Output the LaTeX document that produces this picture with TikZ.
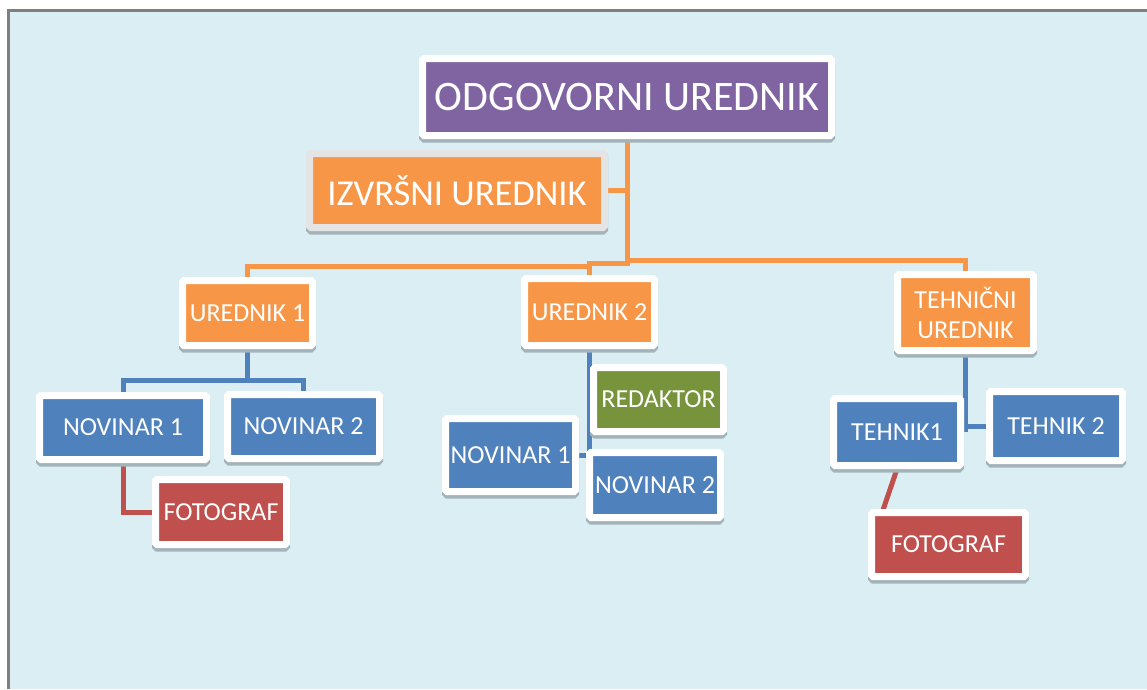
\documentclass[tikz,border=0pt]{standalone}
\usepackage{fontspec}
\setmainfont{Carlito}
\usetikzlibrary{shadows}

\definecolor{pagebg}{HTML}{DBEEF4}
\definecolor{framegray}{HTML}{7F7F7F}
\definecolor{cpurple}{HTML}{8064A2}
\definecolor{corange}{HTML}{F79646}
\definecolor{cblue}{HTML}{4F81BD}
\definecolor{cred}{HTML}{C0504D}
\definecolor{cgreen}{HTML}{77933C}
\definecolor{cshadow}{HTML}{A3B3BA}
\definecolor{cgrayframe}{HTML}{E4E4E4}

\newcommand\orgfs[1]{\fontsize{#1}{#1}\selectfont}

\pgfdeclarelayer{back}
\pgfdeclarelayer{wires}
\pgfsetlayers{back,wires,main}

\tikzset{
  orgbox/.style={draw=white, line width=7pt, rounded corners=1.5pt,
    inner sep=0pt, text=white, align=center, font=\orgfs{26},
    drop shadow={shadow xshift=0pt, shadow yshift=-3.5pt, opacity=1,
      fill=cshadow, draw=cshadow, line width=7pt}},
  oline/.style={draw=corange, line width=5pt},
  bline/.style={draw=cblue, line width=5pt},
  rline/.style={draw=cred, line width=5pt},
}

\begin{document}
\begin{tikzpicture}[x=1pt, y=-1pt]
\useasboundingbox (0,0) rectangle (1147,689);

% page and its frame
\begin{pgfonlayer}{back}
  \fill[white] (0,0) rectangle (1147,689);
  \fill[pagebg] (8,10) rectangle (1147,689);
  \draw[framegray, line width=2.5pt] (8.3,689) -- (8.3,10.3) -- (1147,10.3);
\end{pgfonlayer}

% top level
\node[orgbox, fill=cpurple, minimum width=409pt, minimum height=77pt,
      font=\orgfs{42}] (odg) at (627,97) {ODGOVORNI UREDNIK};
\node[orgbox, fill=corange, draw=cgrayframe, minimum width=295pt,
      minimum height=74pt, font=\orgfs{36.5}] (izv) at (457,190.5) {IZVRŠNI UREDNIK};

% editors
\node[orgbox, fill=corange, minimum width=130pt, minimum height=65pt] (u1) at (247.5,313) {UREDNIK 1};
\node[orgbox, fill=corange, minimum width=130pt, minimum height=67pt] (u2) at (589.5,312) {UREDNIK 2};
\node[orgbox, fill=corange, minimum width=136pt, minimum height=76pt,
      font=\fontsize{26}{30}\selectfont] (teh) at (965.5,312.5) {TEHNIČNI\\UREDNIK};

% first editor's team
\node[orgbox, fill=cblue, minimum width=167pt, minimum height=64pt] (n11) at (123,427.5) {NOVINAR 1};
\node[orgbox, fill=cblue, minimum width=152pt, minimum height=64pt] (n12) at (303.5,426.5) {NOVINAR 2};
\node[orgbox, fill=cred, minimum width=131pt, minimum height=65pt] (f1) at (221,512) {FOTOGRAF};

% second editor's team
\node[orgbox, fill=cgreen, minimum width=130pt, minimum height=64pt] (red) at (658.5,399.5) {REDAKTOR};
\node[orgbox, fill=cblue, minimum width=130pt, minimum height=73pt] (n21) at (510.5,455) {NOVINAR 1};
\node[orgbox, fill=cblue, minimum width=131pt, minimum height=65pt] (n22) at (655,485) {NOVINAR 2};

% technical team
\node[orgbox, fill=cblue, minimum width=127pt, minimum height=67pt] (t1) at (897,432) {TEHNIK1};
\node[orgbox, fill=cblue, minimum width=133pt, minimum height=69pt] (t2) at (1056,426) {TEHNIK 2};
\node[orgbox, fill=cred, minimum width=154pt, minimum height=64pt] (f2) at (948.5,544.5) {FOTOGRAF};

% connectors, kept under the boxes
\begin{pgfonlayer}{wires}
  \coordinate (b1) at (247.5,380);
  \coordinate (f2top) at (883,510);

  \draw[oline] (izv.east) -- (izv.east -| odg.south);
  \draw[oline] (odg.south) -- (odg.south |- 0,263) -| (u2.north);
  \draw[oline] (odg.south |- 0,260) -| (teh.north);
  \draw[oline] (u2.north |- 0,266) -| (u1.north);

  \draw[bline] (u1.south) -- (b1);
  \draw[bline] (n11.north) |- (b1) -| (n12.north);

  \draw[bline] (u2.south) -- (u2.south |- 0,457);
  \draw[bline] (n21.east) -- (n21.east -| u2.south);
  \draw[bline] (red.west) -- (red.west -| u2.south);

  \draw[bline] (teh.south) -- (teh.south |- t1.east);
  \draw[bline] (t2.west) -- (t2.west -| teh.south);

  \draw[rline] (n11.south) |- (f1.west);
  \draw[rline] (t1.south) -- (f2top);
\end{pgfonlayer}
\end{tikzpicture}
\end{document}
